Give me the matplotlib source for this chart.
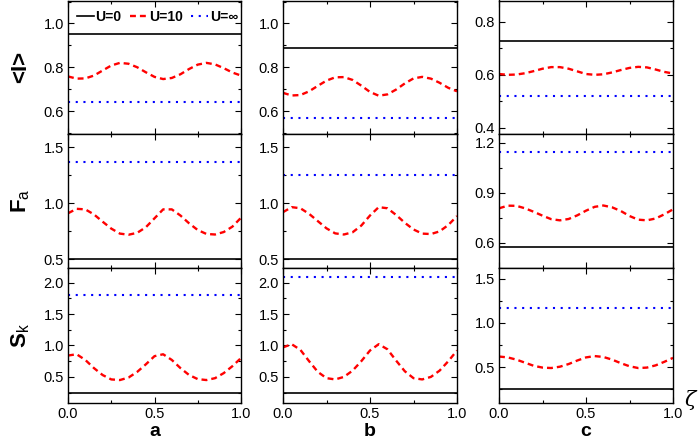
import numpy as np
import matplotlib
matplotlib.use("Agg")
import matplotlib.pyplot as plt
from matplotlib.ticker import MultipleLocator

plt.rcParams['font.family'] = ['Liberation Sans', 'DejaVu Sans']
plt.rcParams['mathtext.fontset'] = 'custom'
plt.rcParams['mathtext.rm'] = 'Liberation Sans'
plt.rcParams['mathtext.bf'] = 'Liberation Sans:bold'

# zeta sample positions (every 0.05)
zeta = [0.0, 0.05, 0.1, 0.15, 0.2, 0.25, 0.3, 0.35, 0.4, 0.45, 0.5,
        0.55, 0.6, 0.65, 0.7, 0.75, 0.8, 0.85, 0.9, 0.95, 1.0]

# U=0 and U=inf are constant, U=10 oscillates
# row 0: <I>, row 1: F_a, row 2: S_k ; columns a, b, c
u0 = [[0.95, 0.888, 0.726],
      [0.497, 0.50, 0.576],
      [0.247, 0.247, 0.25]]
uinf = [[0.64, 0.568, 0.52],
        [1.373, 1.25, 1.146],
        [1.80, 2.09, 1.165]]

u10_I_a = [0.758, 0.748, 0.749, 0.762, 0.785, 0.808, 0.820, 0.816, 0.800, 0.777, 0.756,
           0.746, 0.751, 0.768, 0.792, 0.812, 0.820, 0.813, 0.796, 0.776, 0.762]
u10_I_b = [0.683, 0.671, 0.673, 0.690, 0.715, 0.739, 0.754, 0.755, 0.742, 0.716, 0.687,
           0.670, 0.676, 0.698, 0.726, 0.749, 0.756, 0.748, 0.729, 0.706, 0.690]
u10_I_c = [0.603, 0.600, 0.601, 0.606, 0.614, 0.623, 0.629, 0.629, 0.623, 0.613, 0.603,
           0.600, 0.602, 0.609, 0.618, 0.626, 0.630, 0.628, 0.620, 0.611, 0.605]
u10_F_a = [0.91, 0.950, 0.945, 0.900, 0.835, 0.773, 0.728, 0.718, 0.735, 0.785, 0.865,
           0.945, 0.945, 0.890, 0.820, 0.760, 0.725, 0.720, 0.742, 0.790, 0.870]
u10_F_b = [0.92, 0.965, 0.955, 0.905, 0.84, 0.775, 0.73, 0.72, 0.74, 0.80, 0.89,
           0.965, 0.955, 0.895, 0.825, 0.765, 0.728, 0.724, 0.748, 0.805, 0.885]
u10_F_c = [0.806, 0.822, 0.821, 0.806, 0.785, 0.762, 0.741, 0.734, 0.742, 0.764, 0.792,
           0.815, 0.823, 0.812, 0.790, 0.760, 0.738, 0.734, 0.745, 0.770, 0.800]
u10_S_a = [0.84, 0.86, 0.77, 0.64, 0.53, 0.46, 0.45, 0.49, 0.58, 0.70, 0.83,
           0.86, 0.77, 0.64, 0.53, 0.465, 0.45, 0.48, 0.56, 0.67, 0.80]
u10_S_b = [0.97, 1.02, 0.93, 0.75, 0.58, 0.48, 0.46, 0.50, 0.60, 0.75, 0.92,
           1.02, 0.94, 0.76, 0.59, 0.48, 0.46, 0.50, 0.60, 0.75, 0.92]
u10_S_c = [0.62, 0.61, 0.585, 0.55, 0.515, 0.495, 0.49, 0.505, 0.535, 0.575, 0.61,
           0.625, 0.615, 0.585, 0.545, 0.51, 0.49, 0.495, 0.52, 0.56, 0.605]
u10 = [[u10_I_a, u10_I_b, u10_I_c],
       [u10_F_a, u10_F_b, u10_F_c],
       [u10_S_a, u10_S_b, u10_S_c]]

ylims = [[(0.495, 1.105), (0.495, 1.105), (0.377, 0.880)],
         [(0.42, 1.62), (0.42, 1.62), (0.448, 1.252)],
         [(0.085, 2.232), (0.085, 2.232), (0.095, 1.62)]]
yticks = [[(0.2, 0.1), (0.2, 0.1), (0.2, 0.1)],
          [(0.5, 0.25), (0.5, 0.25), (0.3, 0.15)],
          [(0.5, 0.25), (0.5, 0.25), (0.5, 0.25)]]

row_labels = ['<I>', r'$\mathbf{F}_{\mathrm{a}}$', r'$\mathbf{S}_{\mathrm{k}}$']
col_labels = ['a', 'b', 'c']

fig = plt.figure(figsize=(7.0, 4.47), dpi=100)

lefts = [68 / 700, 283 / 700, 499 / 700]
widths = [173 / 700, 174 / 700, 174 / 700]
bottoms = [1 - 134 / 447, 1 - 268 / 447, 1 - 403 / 447]
heights = [133.5 / 447, 134 / 447, 135 / 447]

for r in range(3):
    for c in range(3):
        ax = fig.add_axes([lefts[c], bottoms[r], widths[c], heights[r]])
        ax.plot([0, 1], [u0[r][c]] * 2, color='black', lw=1.2, label='U=0')
        ax.plot(zeta, u10[r][c], color='red', lw=1.7, dashes=(2.5, 1.7), label='U=10')
        ax.plot([0, 1], [uinf[r][c]] * 2, color='blue', lw=1.5, dashes=(1, 2.7), label='U=\u221e')
        ax.set_xlim(0, 1)
        ax.set_ylim(*ylims[r][c])
        ax.xaxis.set_major_locator(MultipleLocator(0.5))
        ax.xaxis.set_minor_locator(MultipleLocator(0.25))
        ax.yaxis.set_major_locator(MultipleLocator(yticks[r][c][0]))
        ax.yaxis.set_minor_locator(MultipleLocator(yticks[r][c][1]))
        ax.tick_params(which='both', direction='in', top=True, right=True, labelsize=10.5)
        ax.tick_params(which='major', length=4, width=0.8)
        ax.tick_params(which='minor', length=2.5, width=0.8)
        ax.tick_params(axis='y', pad=3)
        ax.tick_params(axis='x', pad=3)
        ax.yaxis.set_major_formatter(plt.FormatStrFormatter('%.1f'))
        ax.xaxis.set_major_formatter(plt.FormatStrFormatter('%.1f'))
        if r < 2:
            ax.tick_params(labelbottom=False)
        for sp in ax.spines.values():
            sp.set_linewidth(1.0)
        if r == 0 and c == 0:
            ax.legend(loc='center', bbox_to_anchor=(0.517, 0.875), ncol=3, frameon=False,
                      handlelength=1.2, handletextpad=0.15, columnspacing=0.6,
                      prop={'weight': 'bold', 'size': 10}, borderaxespad=0,
                      borderpad=0)

for r in range(3):
    yc = bottoms[r] + heights[r] / 2
    fig.text(0.03, yc, row_labels[r], rotation=90, ha='center', va='center',
             fontsize=16, fontweight='bold')

for c in range(3):
    fig.text(lefts[c] + widths[c] / 2, 0.034, col_labels[c], ha='center', va='center',
             fontsize=14, fontweight='bold')

fig.text(0.986, 0.105, '\u03b6', ha='center', va='center', fontsize=15,
         family='DejaVu Serif', style='italic')

fig.savefig('out.png', dpi=100)
